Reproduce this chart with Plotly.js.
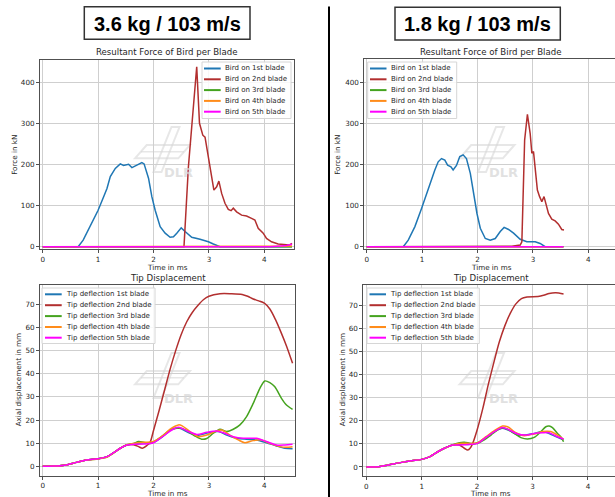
<!DOCTYPE html>
<html><head><meta charset="utf-8">
<script src="https://cdn.plot.ly/plotly-3.0.1.min.js"></script>
<style>html,body{margin:0;padding:0;overflow:hidden;background:#fff;width:615px;height:497px}#chart{width:630px;height:497px}</style>
</head><body><div id="chart"></div><script>
// ---------- DATA ----------
const headers = ['3.6 kg / 103 m/s', '1.8 kg / 103 m/s'];
const forceTitle = 'Resultant Force of Bird per Blade';
const dispTitle = 'Tip Displacement';
const xLabel = 'Time in ms';
const forceYLabel = 'Force in kN';
const dispYLabel = 'Axial displacement in mm';
const forceLabels = ['Bird on 1st blade','Bird on 2nd blade','Bird on 3rd blade','Bird on 4th blade','Bird on 5th blade'];
const dispLabels = ['Tip deflection 1st blade','Tip deflection 2nd blade','Tip deflection 3rd blade','Tip deflection 4th blade','Tip deflection 5th blade'];
const seriesColors = ['#1f77b4','#b22f2f','#45a31f','#ff8c1a','#ff00ff'];
const xTicks = [0,1,2,3,4];
const forceTicks = [0,100,200,300,400];
const dispTicks = [0,10,20,30,40,50,60,70];

// 3.6 kg — force
const tA_F1 = [0,0.64,0.73,0.85,1.0,1.1,1.16,1.22,1.31,1.40,1.46,1.55,1.61,1.70,1.79,1.83,1.91,1.97,2.03,2.12,2.21,2.30,2.36,2.42,2.50,2.57,2.69,2.84,2.99,3.08,3.2,4.5];
const fA_F1 = [0,0,16,49,89,122,142,171,191,202,198,201,193,199,205,202,167,122,89,49,33,23,24,33,46,37,23,18,12,6.5,0,0];
const tA_F2 = [0,2.55,2.63,2.72,2.78,2.83,2.89,2.93,2.99,3.05,3.09,3.14,3.18,3.23,3.29,3.35,3.40,3.44,3.50,3.59,3.68,3.77,3.83,3.89,3.98,4.04,4.13,4.25,4.37,4.45,4.5];
const fA_F2 = [0,0,195,341,439,301,272,267,220,163,138,146,160,130,106,91,88,94,85,77,75,69,65,45,33,20,12,6.5,4,4,8];
const tA_F3 = [0,4.5];
const fA_F3 = [0,0];
const tA_F4 = [0,4.0,4.3,4.5];
const fA_F4 = [0,0,1,2];
const tA_F5 = [0,4.1,4.3,4.4,4.5];
const fA_F5 = [0,0,2,3,6];

// 1.8 kg — force
const tB_F1 = [0,0.66,0.75,0.87,0.99,1.11,1.23,1.29,1.35,1.41,1.46,1.52,1.56,1.62,1.68,1.74,1.80,1.87,1.93,1.99,2.05,2.14,2.23,2.32,2.41,2.48,2.56,2.65,2.77,2.89,3.04,3.13,3.22,3.55];
const fB_F1 = [0,0,16,49,93,142,187,207,215,211,199,195,187,198,220,224,215,179,130,81,45,20,16,20,37,47,42,33,18,12,12,8,0,0];
const tB_F2 = [0,2.5,2.62,2.77,2.80,2.85,2.90,2.95,2.98,3.01,3.04,3.08,3.12,3.16,3.20,3.23,3.28,3.34,3.40,3.46,3.52,3.56];
const fB_F2 = [0,0,1,4,12,260,323,276,228,232,195,138,122,110,122,106,81,67,63,55,42,41];
const tB_F3 = [0,3.55];
const fB_F3 = [0,0];
const tB_F4 = [0,3.55];
const fB_F4 = [0,0];
const tB_F5 = [0,3.55];
const fB_F5 = [0,0];

// 3.6 kg — tip displacement
const tA_D1 = [0,0.2,0.43,0.61,0.79,1.0,1.16,1.28,1.40,1.52,1.64,1.82,2.0,2.18,2.30,2.42,2.51,2.66,2.81,2.99,3.17,3.32,3.50,3.68,3.86,4.04,4.22,4.37,4.51];
const dA_D1 = [0,0.1,0.6,1.7,2.7,3.3,4.2,5.9,7.8,9.2,9.8,10.2,10.4,13.1,15.5,16.7,16.1,14.3,13.4,14.5,15,13.5,12.1,11.7,11.4,10.2,8.8,7.8,7.6];
const tA_D2 = [0,0.2,0.43,0.61,0.79,1.0,1.16,1.28,1.40,1.52,1.64,1.73,1.80,1.88,1.94,2.0,2.1,2.2,2.3,2.4,2.5,2.6,2.7,2.8,2.9,3.0,3.2,3.4,3.6,3.7,3.8,3.9,4.0,4.1,4.2,4.3,4.4,4.51];
const dA_D2 = [0,0.1,0.6,1.7,2.7,3.3,4.2,5.9,7.8,9.2,9.3,8.5,7.8,9,10.5,15.5,24,33,42,50,57,62.5,66.5,69.5,72,73.5,74.6,74.6,74.3,73.5,72.3,71.5,70.5,68,63.5,58,52,44.5];
const tA_D3 = [0,0.2,0.43,0.61,0.79,1.0,1.16,1.28,1.40,1.52,1.64,1.73,1.82,1.94,2.06,2.18,2.30,2.42,2.51,2.63,2.75,2.87,2.96,3.08,3.20,3.32,3.44,3.56,3.68,3.80,3.92,4.01,4.10,4.19,4.31,4.40,4.51];
const dA_D3 = [0,0.1,0.6,1.7,2.7,3.2,4.0,5.8,7.8,9.3,9.9,10.7,10.4,9.9,11.4,13.5,15.7,16.4,16.4,15,13.1,11.7,12,14.3,16,15,16,17.9,21.5,27.2,33.7,36.9,36.2,34.4,29.4,26.5,24.6];
const tA_D4 = [0,0.2,0.43,0.61,0.79,1.0,1.16,1.28,1.40,1.52,1.64,1.82,2.0,2.18,2.30,2.45,2.51,2.66,2.81,2.96,3.11,3.23,3.38,3.53,3.65,3.80,3.95,4.10,4.28,4.40,4.51];
const dA_D4 = [0,0.1,0.6,1.7,2.7,3.2,4.0,5.8,7.8,9.3,9.9,10.4,10.7,13.5,16.1,17.9,17.6,15,12.8,13.5,15,15.7,13.5,11.4,10.2,11.1,11.4,9.9,8.5,8.2,8.5];
const tA_D5 = [0,0.2,0.43,0.61,0.79,1.0,1.16,1.28,1.40,1.52,1.64,1.82,2.0,2.18,2.33,2.45,2.60,2.78,2.96,3.14,3.26,3.44,3.62,3.86,4.04,4.22,4.37,4.51];
const dA_D5 = [0,0.1,0.6,1.7,2.7,3.3,4.2,5.9,7.8,9.2,9.5,9.6,10.2,13.1,15.7,16.9,15.4,13.8,14.7,15.3,14.5,12.8,12.1,12.1,10.7,9.2,9.2,9.5];

// 1.8 kg — tip displacement
const tB_D1 = [0,0.22,0.40,0.64,0.82,1.0,1.15,1.29,1.41,1.56,1.68,1.89,2.01,2.16,2.31,2.46,2.58,2.73,2.88,3.03,3.18,3.30,3.42,3.56];
const dB_D1 = [0,0.1,0.9,2.0,2.7,3.3,4.5,6.6,8.1,9.5,9.8,9.8,10.5,12.8,15.3,16.7,15.7,13.8,13.8,14.5,15.3,14.5,13.1,11.7];
const tB_D2 = [0,0.22,0.40,0.64,0.82,1.0,1.15,1.29,1.41,1.56,1.68,1.77,1.83,1.88,1.92,2.0,2.1,2.2,2.3,2.4,2.5,2.6,2.7,2.8,2.9,3.1,3.2,3.3,3.42,3.56];
const dB_D2 = [0,0.1,0.9,2.0,2.7,3.3,4.5,6.6,8.1,9.5,9.5,8.1,7.3,8.3,10.2,16,25,35.5,45,54,61,66.5,70.5,72.8,73.5,73.7,74.2,75,75.3,74.8];
const tB_D3 = [0,0.22,0.40,0.64,0.82,1.0,1.15,1.29,1.41,1.56,1.68,1.77,1.89,2.01,2.13,2.25,2.37,2.46,2.55,2.67,2.79,2.91,3.03,3.15,3.24,3.30,3.36,3.45,3.51,3.56];
const dB_D3 = [0,0.1,0.9,2.0,2.7,3.3,4.5,6.6,8.1,9.6,10.5,10.7,10.2,10.2,11.7,13.8,16,17,16.3,14.5,12.7,12.1,12.8,15.3,17.4,17.7,17,14.5,13.1,10.9];
const tB_D4 = [0,0.22,0.40,0.64,0.82,1.0,1.15,1.29,1.41,1.56,1.68,1.89,2.01,2.16,2.31,2.46,2.55,2.70,2.85,3.03,3.18,3.33,3.45,3.56];
const dB_D4 = [0,0.1,0.9,2.0,2.7,3.3,4.5,6.6,8.1,9.5,10.2,10.2,10.5,13.1,15.7,17.7,17.4,14.8,13.5,14.3,15.3,15.3,13.8,12];
const tB_D5 = [0,0.22,0.40,0.64,0.82,1.0,1.15,1.29,1.41,1.56,1.68,1.89,2.01,2.16,2.31,2.46,2.58,2.73,2.88,3.03,3.18,3.30,3.42,3.56];
const dB_D5 = [0,0.1,0.9,2.0,2.7,3.3,4.5,6.6,8.1,9.5,9.5,9.8,10.2,12.8,15.3,17.1,16,14.3,13.8,14.5,14.8,14.8,13.4,12.1];

// ---------- LAYOUT HELPERS ----------
const W = 630, H = 497;
const X = p => p / W, Y = p => 1 - p / H;
const FONT = 'DejaVu Sans, Verdana, sans-serif';

function line(x, y, color, xa, ya, smooth) {
  return {x, y, type:'scatter', mode:'lines', xaxis:xa, yaxis:ya, showlegend:false, hoverinfo:'skip',
    line:{color, width:1.5, shape: smooth ? 'spline' : 'linear', smoothing: 0.8}};
}
const traces = [];
[[tA_F1,fA_F1],[tA_F2,fA_F2],[tA_F3,fA_F3],[tA_F4,fA_F4],[tA_F5,fA_F5]].forEach((s,i)=>traces.push(line(s[0],s[1],seriesColors[i],'x','y',false)));
[[tB_F1,fB_F1],[tB_F2,fB_F2],[tB_F3,fB_F3],[tB_F4,fB_F4],[tB_F5,fB_F5]].forEach((s,i)=>traces.push(line(s[0],s[1],seriesColors[i],'x2','y2',false)));
[[tA_D1,dA_D1],[tA_D2,dA_D2],[tA_D3,dA_D3],[tA_D4,dA_D4],[tA_D5,dA_D5]].forEach((s,i)=>traces.push(line(s[0],s[1],seriesColors[i],'x3','y3',true)));
[[tB_D1,dB_D1],[tB_D2,dB_D2],[tB_D3,dB_D3],[tB_D4,dB_D4],[tB_D5,dB_D5]].forEach((s,i)=>traces.push(line(s[0],s[1],seriesColors[i],'x4','y4',true)));

function axis(domain, range, tickvals, anchor) {
  return {domain, range, tickvals, anchor, showgrid:true, gridcolor:'#cfcfcf', gridwidth:1, zeroline:false,
    showline:true, mirror:true, linecolor:'#505050', linewidth:1, ticks:'outside', ticklen:3, tickwidth:1,
    tickcolor:'#505050', tickfont:{size:7.2, color:'#262626', family:FONT}, fixedrange:true};
}

const shapes = [], annotations = [];
function txt(text, x, y, size, opts) {
  annotations.push(Object.assign({text, x:X(x), y:Y(y), xref:'paper', yref:'paper', showarrow:false,
    xanchor:'center', yanchor:'middle', borderpad:0, font:{size, color:'#262626', family:FONT}}, opts||{}));
}
// headers
function header(text, x0, y0, x1, y1) {
  shapes.push({type:'rect', xref:'paper', yref:'paper', x0:X(x0), x1:X(x1), y0:Y(y0), y1:Y(y1),
    line:{color:'#333', width:1.5}, fillcolor:'rgba(0,0,0,0)'});
  txt('<b>'+text+'</b>', (x0+x1)/2, (y0+y1)/2 + 0.5, 20, {font:{size:20, color:'#000', family:'Liberation Sans, Arial, sans-serif'}});
}
header(headers[0], 84.3, 6.7, 250, 39.3);
header(headers[1], 395, 7.3, 560.3, 40);
// divider
shapes.push({type:'line', xref:'paper', yref:'paper', x0:X(329), x1:X(329), y0:Y(6.5), y1:Y(497), line:{color:'#000', width:2}});

// titles & labels
txt(forceTitle, 167, 52, 8.6);
txt(forceTitle, 491.3, 52, 8.6);
txt(dispTitle, 167.5, 277.7, 8.6);
txt(dispTitle, 490.8, 277.7, 8.6);
txt(xLabel, 167, 267.5, 7.2);
txt(xLabel, 491.3, 267.5, 7.2);
txt(xLabel, 167.5, 493, 7.2);
txt(xLabel, 490.8, 493.3, 7.2);
txt(forceYLabel, 14.3, 154.5, 7.2, {textangle:-90});
txt(forceYLabel, 337.3, 154.5, 7.2, {textangle:-90});
txt(dispYLabel, 18.3, 380, 7.2, {textangle:-90});
txt(dispYLabel, 342.3, 380, 7.2, {textangle:-90});

// watermark
function watermark(cx, cy) {
  const pt = (dx, dy) => X(cx+dx) + ',' + Y(cy+dy);
  const col = 'rgba(215,215,215,0.6)';
  shapes.push({type:'path', xref:'paper', yref:'paper', layer:'below', line:{color:col, width:2},
    path:'M'+pt(-43.5,-13.7)+' L'+pt(-31.8,-27)+' L'+pt(11.5,-27)+' L'+pt(-0.2,-13.7)+' Z'});
  shapes.push({type:'path', xref:'paper', yref:'paper', layer:'below', line:{color:col, width:1.5},
    path:'M'+pt(-37.5,-20.3)+' L'+pt(5.5,-20.3)});
  shapes.push({type:'path', xref:'paper', yref:'paper', layer:'below', line:{color:col, width:2},
    path:'M'+pt(-7,-45)+' L'+pt(1,-45)+' L'+pt(-17,0)+' L'+pt(-25,0)+' Z'});
  annotations.push({text:'<b>DLR</b>', x:X(cx), y:Y(cy), xref:'paper', yref:'paper', showarrow:false,
    xanchor:'center', yanchor:'middle', font:{size:13, color:'rgba(215,215,215,0.75)', family:'DejaVu Sans, sans-serif'}});
}
watermark(178.5, 172);
watermark(503, 172);
watermark(178.5, 398);
watermark(503, 398);

// legends
function legend(bx0, by0, bx1, by1, lx0, lx1, tx, ys, labels) {
  shapes.push({type:'rect', xref:'paper', yref:'paper', x0:X(bx0), x1:X(bx1), y0:Y(by0), y1:Y(by1),
    line:{color:'#d6d6d6', width:1}, fillcolor:'rgba(255,255,255,0.85)', layer:'above'});
  ys.forEach((y,i)=>{
    shapes.push({type:'line', xref:'paper', yref:'paper', x0:X(lx0), x1:X(lx1), y0:Y(y), y1:Y(y),
      line:{color:seriesColors[i], width:2}, layer:'above'});
    txt(labels[i], tx, y, 7, {xanchor:'left'});
  });
}
const legYTop = [68.5, 79.3, 90.1, 100.9, 111.7];
const legYBot = [294.3, 305.2, 316.1, 327, 337.7];
legend(202, 62, 291, 118.5, 204, 220.7, 224, legYTop, forceLabels);
legend(367.7, 62, 456.7, 118.5, 370, 386.5, 389.5, legYTop, forceLabels);
legend(42, 288, 155, 343.5, 45, 61.7, 65, legYBot, dispLabels);
legend(367, 288, 479.3, 343.5, 369.5, 386, 389, legYBot, dispLabels);

const layout = {
  width:W, height:H, margin:{l:0,r:0,t:0,b:0}, showlegend:false,
  paper_bgcolor:'#fff', plot_bgcolor:'rgba(0,0,0,0)',
  xaxis: axis([X(40),X(294)], [-0.049,4.536], xTicks, 'y'),
  yaxis: axis([Y(249),Y(60)], [-5.6,455.4], forceTicks, 'x'),
  xaxis2: axis([X(364.3),X(618.3)], [-0.043,4.54], xTicks, 'y2'),
  yaxis2: axis([Y(249),Y(59.3)], [-5.6,457], forceTicks, 'x2'),
  xaxis3: axis([X(40),X(295)], [-0.049,4.554], xTicks, 'y3'),
  yaxis3: axis([Y(475.7),Y(284.7)], [-4.06,78.5], dispTicks, 'x3'),
  xaxis4: axis([X(363.3),X(618.3)], [-0.054,4.548], xTicks, 'y4'),
  yaxis4: axis([Y(475.9),Y(284.7)], [-3.85,78.8], dispTicks, 'x4'),
  shapes, annotations
};
Plotly.newPlot('chart', traces, layout, {staticPlot:true, displayModeBar:false});
</script></body></html>
